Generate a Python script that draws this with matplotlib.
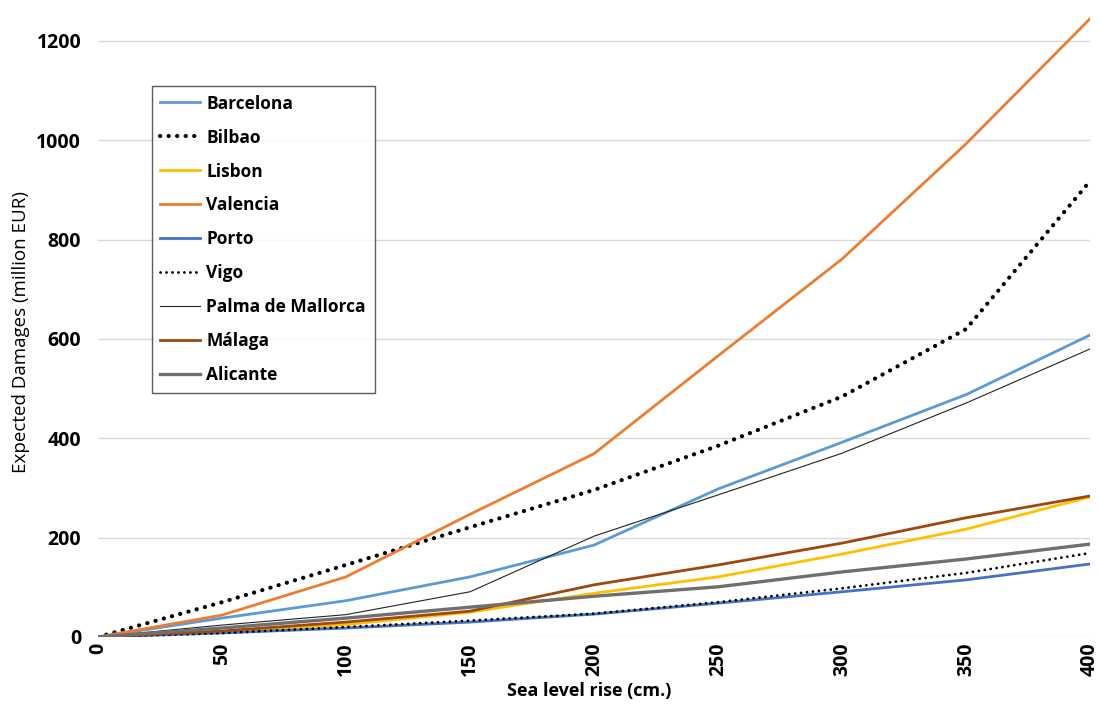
import matplotlib
matplotlib.use("Agg")
import matplotlib.pyplot as plt

plt.rcParams['font.family'] = ['Open Sans', 'DejaVu Sans']

# sea level rise in cm
rise = [0, 50, 100, 150, 200, 250, 300, 350, 400]

# expected damages, million EUR
barcelona = [0, 38, 73, 121, 185, 298, 392, 488, 608]
bilbao = [0, 70, 145, 221, 296, 385, 484, 620, 918]
lisbon = [0, 10, 25, 50, 88, 121, 167, 217, 282]
valencia = [0, 44, 121, 247, 369, 566, 761, 993, 1245]
porto = [0, 8, 18, 30, 46, 68, 91, 115, 147]
vigo = [0, 8, 20, 33, 47, 70, 98, 129, 169]
palma = [0, 24, 45, 91, 203, 286, 370, 471, 580]
malaga = [0, 12, 30, 52, 105, 145, 189, 240, 284]
alicante = [0, 18, 38, 60, 82, 101, 131, 157, 187]

fig = plt.figure(figsize=(11, 7.04), dpi=100)
ax = fig.add_axes([0.089, 0.0952, 0.902, 0.903])

ax.plot(rise, barcelona, color='#5B9BD5', lw=2.0, label='Barcelona')
ax.plot(rise, bilbao, color='black', lw=3.0, linestyle=(0, (0.05, 2.0)),
        dash_capstyle='round', label='Bilbao')
ax.plot(rise, lisbon, color='#FFC000', lw=2.0, label='Lisbon')
ax.plot(rise, valencia, color='#ED7D31', lw=2.0, label='Valencia')
ax.plot(rise, porto, color='#4472C4', lw=2.0, label='Porto')
ax.plot(rise, vigo, color='black', lw=2.0, linestyle=(0, (0.05, 2.1)),
        dash_capstyle='round', label='Vigo')
ax.plot(rise, palma, color='#222222', lw=0.8, label='Palma de Mallorca')
ax.plot(rise, malaga, color='#9E480E', lw=2.0, label='Málaga')
ax.plot(rise, alicante, color='#6F6F6F', lw=2.4, label='Alicante')

ax.set_xlim(0, 400)
ax.set_ylim(0, 1280)
ax.set_xticks(rise)
ax.set_xticklabels([str(r) for r in rise], rotation=90, fontweight='bold', fontsize=14)
ax.set_yticks(range(0, 1201, 200))
ax.set_yticklabels([str(v) for v in range(0, 1201, 200)], fontweight='bold', fontsize=14)
ax.tick_params(length=0)
ax.tick_params(axis='y', pad=12)
ax.tick_params(axis='x', pad=4)

ax.grid(axis='y', color='#D9D9D9', lw=1)
ax.set_axisbelow(True)
for s in ax.spines.values():
    s.set_visible(False)

ax.set_xlabel('Sea level rise (cm.)', fontweight='bold', fontsize=13)
ax.xaxis.set_label_coords(0.495, -0.071)
ax.set_ylabel('Expected Damages (million EUR)', fontsize=13.5)
ax.yaxis.set_label_coords(-0.0685, 0.48)

leg = ax.legend(loc='upper left', bbox_to_anchor=(0.138, 0.878),
                bbox_transform=fig.transFigure, prop={'weight': 'bold', 'size': 12.5},
                frameon=True, fancybox=False, edgecolor='#333333', borderaxespad=0,
                handlelength=2.3, labelspacing=0.92, borderpad=0.5, handletextpad=0.35)
leg.get_frame().set_linewidth(1.0)

fig.savefig('out.png', dpi=100)
